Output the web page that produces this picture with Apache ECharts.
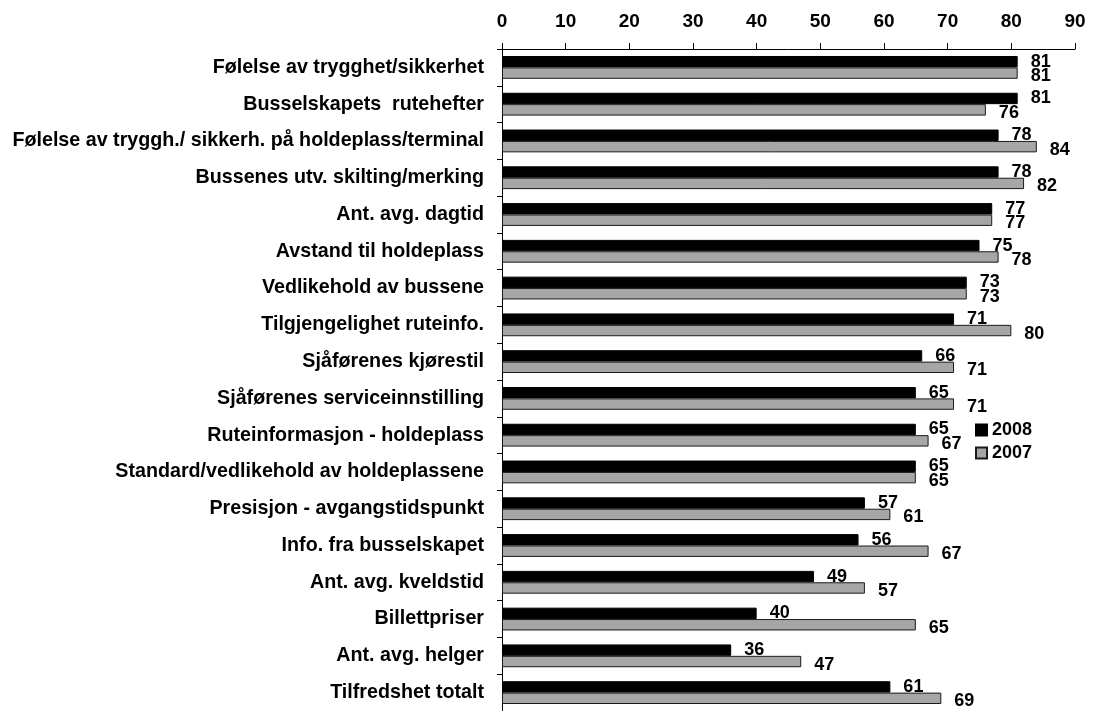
<!DOCTYPE html>
<html>
<head>
<meta charset="utf-8">
<script src="https://cdn.jsdelivr.net/npm/echarts@6/dist/echarts.min.js"></script>
<style>
  html, body { margin: 0; padding: 0; background: #fff; }
  #chart { width: 1093px; height: 711px; }
</style>
</head>
<body>
<div id="chart"></div>
<script>
// kategorier, fra topp til bunn
var categories = [
  'Følelse av trygghet/sikkerhet',
  'Busselskapets  rutehefter',
  'Følelse av tryggh./ sikkerh. på holdeplass/terminal',
  'Bussenes utv. skilting/merking',
  'Ant. avg. dagtid',
  'Avstand til holdeplass',
  'Vedlikehold av bussene',
  'Tilgjengelighet ruteinfo.',
  'Sjåførenes kjørestil',
  'Sjåførenes serviceinnstilling',
  'Ruteinformasjon - holdeplass',
  'Standard/vedlikehold av holdeplassene',
  'Presisjon - avgangstidspunkt',
  'Info. fra busselskapet',
  'Ant. avg. kveldstid',
  'Billettpriser',
  'Ant. avg. helger',
  'Tilfredshet totalt'
];
var values2008 = [81, 81, 78, 78, 77, 75, 73, 71, 66, 65, 65, 65, 57, 56, 49, 40, 36, 61];
var values2007 = [81, 76, 84, 82, 77, 78, 73, 80, 71, 71, 67, 65, 61, 67, 57, 65, 47, 69];
var xTicks = [0, 90, 10]; // min, max, interval

var font = 'Liberation Sans';
var chart = echarts.init(document.getElementById('chart'));

function labelStyle(offsetY) {
  return {
    show: true,
    position: 'right',
    distance: 13,
    offset: [0, offsetY],
    color: '#000',
    fontFamily: font,
    fontWeight: 'bold',
    fontSize: 18
  };
}

chart.setOption({
  animation: false,
  backgroundColor: '#fff',
  textStyle: { fontFamily: font },
  grid: { left: 502, right: 18, top: 49, bottom: -6, containLabel: false },
  legend: {
    orient: 'vertical',
    left: 970,
    top: 416,
    itemWidth: 11,
    itemHeight: 11,
    itemGap: 5,
    textStyle: { fontFamily: font, fontWeight: 'bold', fontSize: 18, color: '#000' },
    data: [
      { name: '2008', icon: 'rect' },
      { name: '2007', icon: 'rect' }
    ]
  },
  xAxis: {
    type: 'value',
    position: 'top',
    min: xTicks[0],
    max: xTicks[1],
    interval: xTicks[2],
    axisLine: { show: true, lineStyle: { color: '#000', width: 1 } },
    axisTick: { show: true, length: 6, lineStyle: { color: '#000' } },
    splitLine: { show: false },
    axisLabel: { margin: 18, color: '#000', fontFamily: font, fontWeight: 'bold', fontSize: 19 }
  },
  yAxis: {
    type: 'category',
    inverse: true,
    data: categories,
    axisLine: { show: true, lineStyle: { color: '#000', width: 1 } },
    axisTick: { show: true, length: 5, lineStyle: { color: '#000' } },
    axisLabel: { margin: 18, color: '#000', fontFamily: font, fontWeight: 'bold', fontSize: 19.7 }
  },
  series: [
    {
      name: '2008',
      type: 'bar',
      data: values2008,
      barGap: '0%',
      barCategoryGap: '38%',
      itemStyle: { color: '#000', borderColor: '#000', borderWidth: 1 },
      label: labelStyle(0)
    },
    {
      name: '2007',
      type: 'bar',
      data: values2007,
      itemStyle: { color: '#a6a6a6', borderColor: '#1a1a1a', borderWidth: 1 },
      label: labelStyle(3)
    }
  ]
});
</script>
</body>
</html>
